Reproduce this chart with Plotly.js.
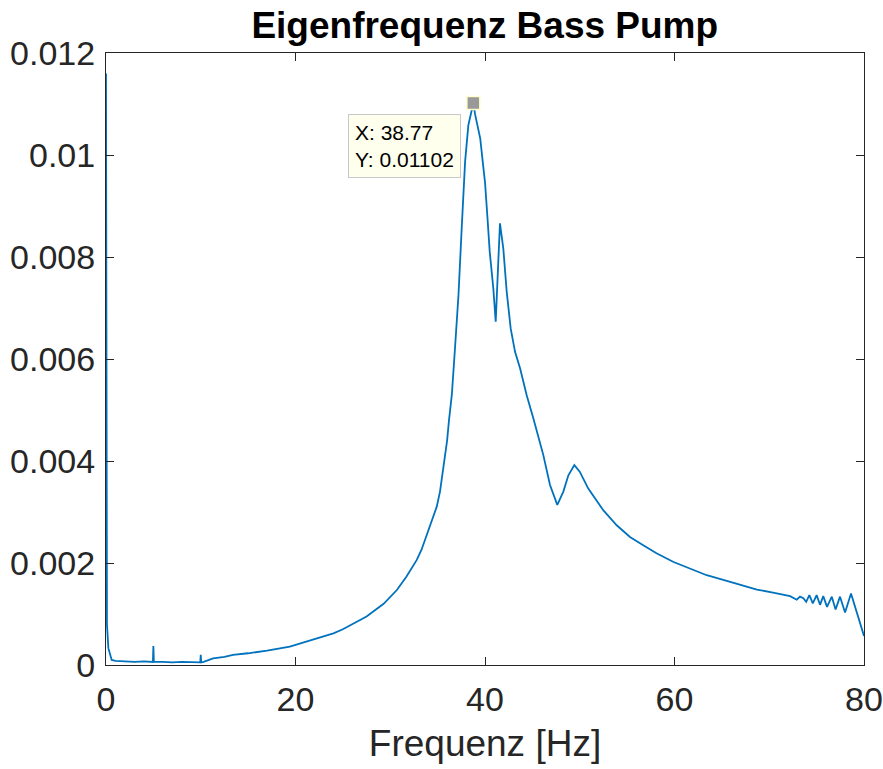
<!DOCTYPE html>
<html>
<head>
<meta charset="utf-8">
<script src="https://cdn.plot.ly/plotly-3.0.1.min.js"></script>
<style>html,body{margin:0;padding:0;background:#fff;}#chart{width:883px;height:769px;}</style>
</head>
<body>
<div id="chart"></div>
<script>
// Frequency [Hz] and amplitude
const freq = [0, 0.05, 0.1, 0.25, 0.6, 1, 2, 3, 4, 4.95, 5.0, 5.05, 6, 7, 8, 9, 9.95, 10.0, 10.05, 10.3, 11.3, 12.5, 13.4, 15, 17, 19.4, 20.5, 22.9, 24, 25, 27.5, 29.3, 30.7, 31.7, 32.8, 33.3, 33.8, 34.5, 34.9, 35.25, 35.8, 36.0, 36.2, 36.5, 36.83, 37.0, 37.2, 37.54, 37.7, 37.9, 38.24, 38.4, 38.6, 38.77, 38.95, 39.2, 39.5, 39.8, 40.0, 40.25, 40.5, 40.88, 41.13, 41.4, 41.58, 41.93, 42.29, 42.71, 43.17, 43.7, 44.4, 45.1, 45.6, 46.15, 46.86, 47.63, 48.27, 48.8, 49.43, 50.0, 50.9, 51.96, 52.5, 53.9, 55.3, 56.7, 58.1, 59.9, 61.6, 63.4, 65.15, 66.9, 68.7, 70.4, 72.2, 72.9, 73.25, 73.6, 73.9, 74.23, 74.6, 75.0, 75.36, 75.7, 76.1, 76.6, 77.0, 77.47, 78.0, 78.63, 79.3, 80];
const amplitude = [0.0116, 0.003, 0.0008, 0.00033, 0.0001, 0.00008, 0.00007, 0.00006, 0.00007, 0.00006, 0.00037, 0.00006, 0.00006, 0.00005, 0.00006, 0.00005, 0.00005, 0.0002, 0.00005, 0.00006, 0.00013, 0.00016, 0.0002, 0.00023, 0.00028, 0.00036, 0.00042, 0.00055, 0.00062, 0.0007, 0.00095, 0.0012, 0.00147, 0.00173, 0.00206, 0.00226, 0.00251, 0.0029, 0.0031, 0.0034, 0.0041, 0.0044, 0.0048, 0.0053, 0.0062, 0.0067, 0.00725, 0.00856, 0.0092, 0.00987, 0.01058, 0.0107, 0.01085, 0.01102, 0.0108, 0.0106, 0.01032, 0.0098, 0.00947, 0.0088, 0.0081, 0.00738, 0.00673, 0.0079, 0.00866, 0.00817, 0.00732, 0.0066, 0.00614, 0.00582, 0.00529, 0.00484, 0.0045, 0.00412, 0.00353, 0.00314, 0.0034, 0.00372, 0.00392, 0.00379, 0.00346, 0.00316, 0.00303, 0.00274, 0.00251, 0.00235, 0.00219, 0.00202, 0.0019, 0.00176, 0.00167, 0.00157, 0.00148, 0.00142, 0.00135, 0.00128, 0.00134, 0.00131, 0.00124, 0.00137, 0.00121, 0.00137, 0.00118, 0.00135, 0.00114, 0.00134, 0.00109, 0.00134, 0.00103, 0.0014, 0.001, 0.00057];
const peakX = [38.77];
const peakY = [0.01102];
const xTicks = [0, 20, 40, 60, 80];
const yTicks = [0, 0.002, 0.004, 0.006, 0.008, 0.01, 0.012];
const yTickText = ["0", "0.002", "0.004", "0.006", "0.008", "0.01", "0.012"];

const FONT = "Liberation Sans, Arial, Helvetica, sans-serif";
const AX = "#262626";

const traces = [
  {x: freq, y: amplitude, type: "scatter", mode: "lines",
   line: {color: "#0072BD", width: 1.8}, hoverinfo: "skip", showlegend: false},
  {x: peakX, y: peakY, type: "scatter", mode: "markers",
   marker: {symbol: "square", size: 13, color: "#999999", line: {color: "#ffffcc", width: 1.5}},
   hoverinfo: "skip", showlegend: false}
];

const layout = {
  width: 883, height: 769,
  margin: {l: 106, r: 19, t: 53, b: 104},
  paper_bgcolor: "#ffffff", plot_bgcolor: "#ffffff",
  font: {family: FONT, color: AX},
  title: {text: "<b>Eigenfrequenz Bass Pump</b>", font: {family: FONT, size: 37, color: "#000000"},
          x: 0.549, xanchor: "center", y: 0.967, yanchor: "middle"},
  xaxis: {range: [0, 80], tickvals: xTicks, ticktext: xTicks.map(String),
          showline: true, mirror: "ticks", linecolor: AX, linewidth: 1,
          ticks: "inside", ticklen: 8, tickcolor: AX, showgrid: false, zeroline: false,
          tickfont: {family: FONT, size: 34, color: AX}, ticklabelstandoff: 4,
          title: {text: "Frequenz [Hz]", font: {family: FONT, size: 37, color: AX}, standoff: 13}},
  yaxis: {range: [0, 0.012], tickvals: yTicks, ticktext: yTickText,
          showline: true, mirror: "ticks", linecolor: AX, linewidth: 1,
          ticks: "inside", ticklen: 8, tickcolor: AX, showgrid: false, zeroline: false,
          tickfont: {family: FONT, size: 34, color: AX}, ticklabelstandoff: 3},
  annotations: [{
    x: peakX[0], y: peakY[0], xref: "x", yref: "y",
    text: "X: " + peakX[0] + "<br>Y: " + peakY[0],
    showarrow: false, xanchor: "right", yanchor: "top", xshift: -12, yshift: -11,
    align: "left", font: {family: FONT, size: 21, color: "#000000"},
    bgcolor: "#ffffee", bordercolor: "#c8c8c8", borderwidth: 1, borderpad: 6
  }]
};

Plotly.newPlot("chart", traces, layout, {staticPlot: true, displayModeBar: false});
</script>
</body>
</html>
